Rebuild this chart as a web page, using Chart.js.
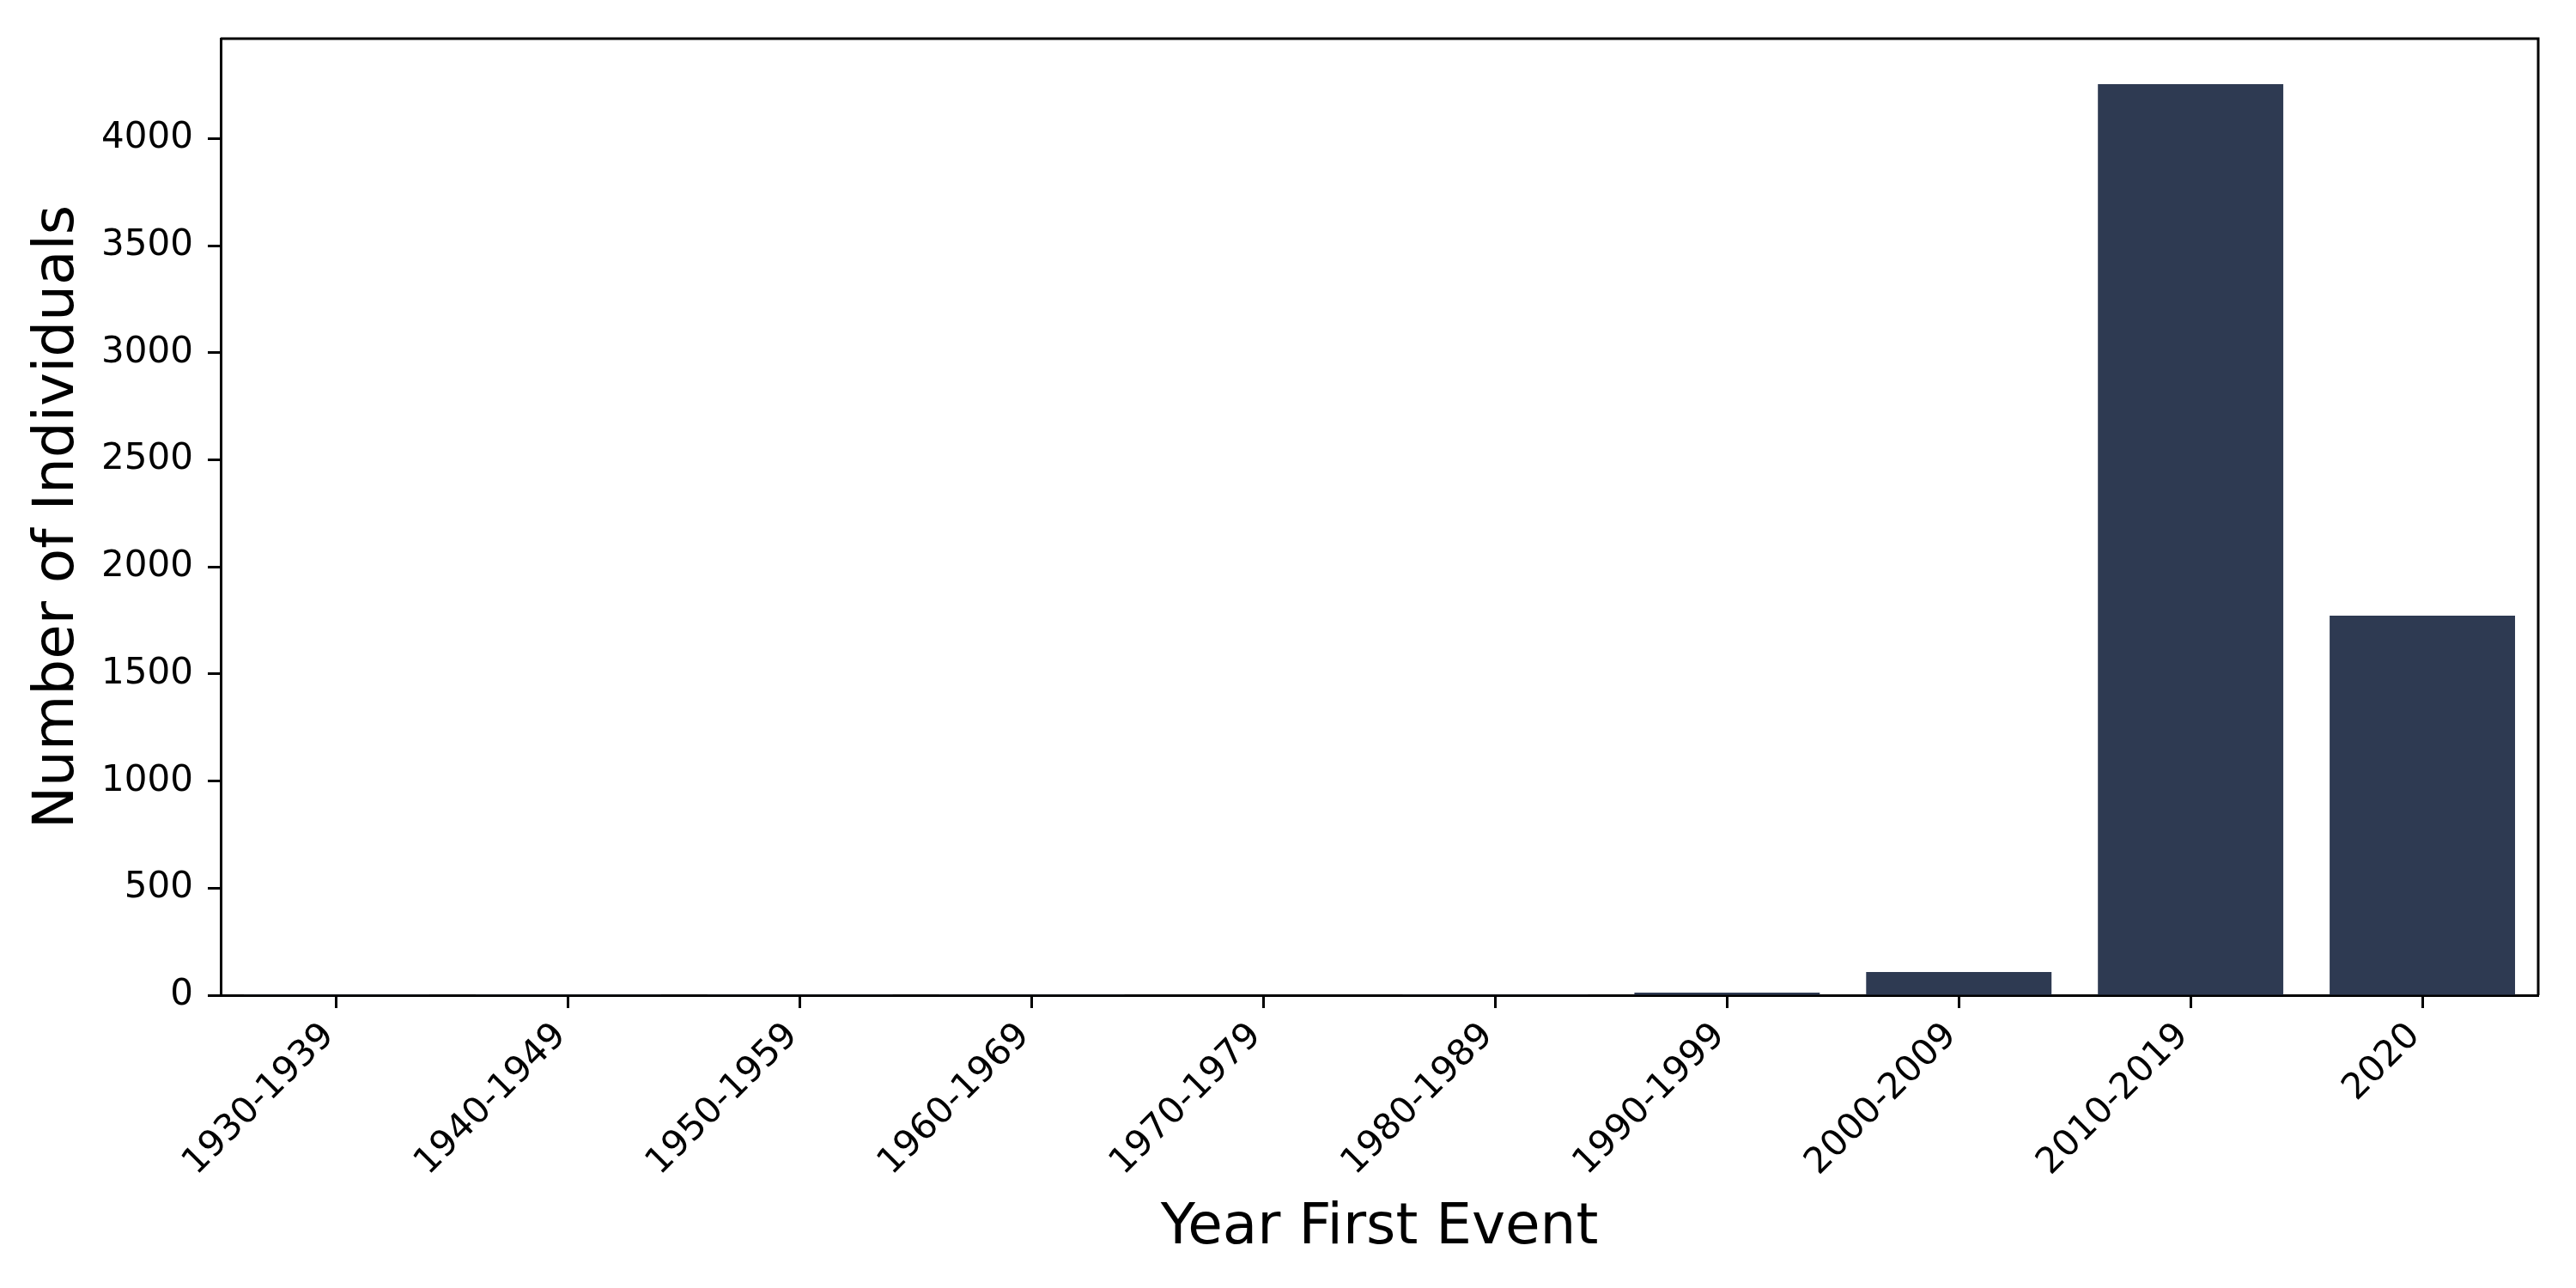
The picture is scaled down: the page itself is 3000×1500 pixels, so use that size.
<!DOCTYPE html>
<html lang="en">
<head>
    <meta charset="UTF-8">
    <title>Year First Event</title>
    <script src="https://cdn.jsdelivr.net/npm/chart.js"></script>
    <style>
        body { margin: 0; background: #fff; }
    </style>
</head>
<body>
    <canvas id="grafico" width="3000" height="1500"></canvas>

    <script>
        // data
        const periods = ['1930-1939', '1940-1949', '1950-1959', '1960-1969', '1970-1979',
                         '1980-1989', '1990-1999', '2000-2009', '2010-2019', '2020'];
        const individuals = [1, 1, 1, 1, 2, 3, 12, 108, 4254, 1772];
        const yTicks = [0, 500, 1000, 1500, 2000, 2500, 3000, 3500, 4000];

        const font = 'DejaVu Sans';

        // draw the top and right sides of the frame
        const frame = {
            id: 'frame',
            afterDatasetsDraw(chart) {
                const a = chart.chartArea;
                const c = chart.ctx;
                c.save();
                c.strokeStyle = '#000';
                c.lineWidth = 3;
                c.beginPath();
                c.moveTo(a.left, a.top);
                c.lineTo(a.right, a.top);
                c.lineTo(a.right, a.bottom);
                c.stroke();
                c.restore();
            }
        };

        const ctx = document.getElementById('grafico').getContext('2d');
        new Chart(ctx, {
            type: 'bar',
            data: {
                labels: periods,
                datasets: [{
                    data: individuals,
                    backgroundColor: '#2e3a52',
                    borderWidth: 0,
                    categoryPercentage: 0.8,
                    barPercentage: 1.0
                }]
            },
            options: {
                responsive: false,
                animation: false,
                devicePixelRatio: 1,
                layout: { padding: { top: 45, right: 44, left: 0, bottom: 0 } },
                plugins: {
                    legend: { display: false },
                    tooltip: { enabled: false }
                },
                scales: {
                    x: {
                        afterFit(scale) { scale.height = 341; },
                        grid: {
                            display: true,
                            drawOnChartArea: false,
                            tickLength: 15,
                            tickWidth: 3,
                            tickColor: '#000',
                            offset: false
                        },
                        border: { display: true, color: '#000', width: 3 },
                        ticks: {
                            color: '#000',
                            font: { family: font, size: 42 },
                            minRotation: 45,
                            maxRotation: 45,
                            padding: 8,
                            labelOffset: -9,
                            autoSkip: false
                        },
                        title: {
                            display: true,
                            text: 'Year First Event',
                            color: '#000',
                            font: { family: font, size: 66, lineHeight: 2.1 },
                            padding: 0
                        }
                    },
                    y: {
                        min: 0,
                        max: Math.max(...individuals) * 1.05,
                        afterFit(scale) { scale.width = 257; },
                        afterBuildTicks(scale) {
                            scale.ticks = yTicks.map(v => ({ value: v }));
                        },
                        grid: {
                            display: true,
                            drawOnChartArea: false,
                            tickLength: 15,
                            tickWidth: 3,
                            tickColor: '#000'
                        },
                        border: { display: true, color: '#000', width: 3 },
                        ticks: {
                            color: '#000',
                            font: { family: font, size: 42 },
                            padding: 17,
                            callback: v => String(v)
                        },
                        title: {
                            display: true,
                            text: 'Number of Individuals',
                            color: '#000',
                            font: { family: font, size: 66, lineHeight: 2.05 },
                            padding: 0
                        }
                    }
                }
            },
            plugins: [frame]
        });
    </script>
</body>
</html>
